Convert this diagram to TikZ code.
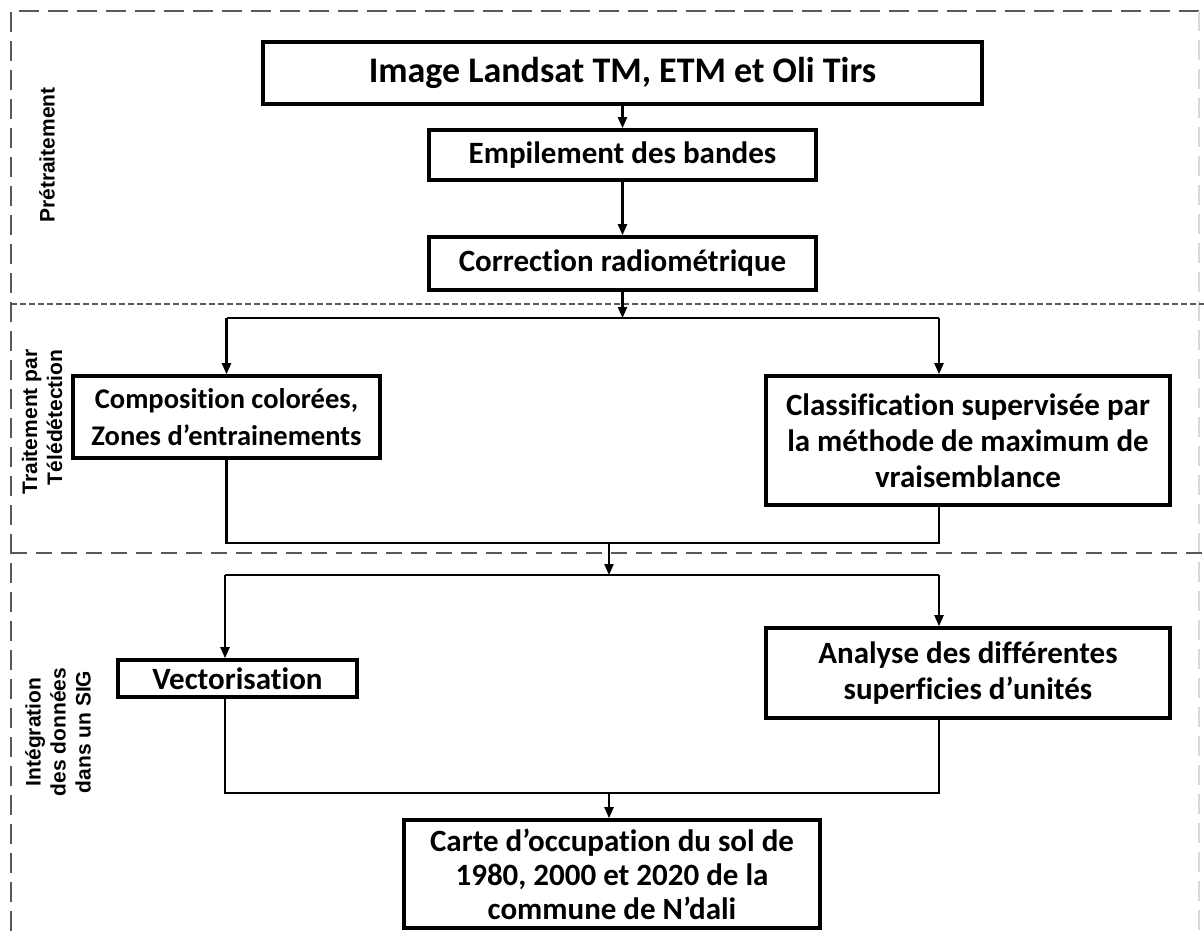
\documentclass[tikz,border=0pt]{standalone}
\usepackage{fontspec}
\setmainfont{Carlito}[Ligatures=NoCommon]
\newfontfamily\labelfont{Liberation Sans}
\usetikzlibrary{arrows.meta}
\begin{document}
\begin{tikzpicture}[x=1pt,y=-1pt,
 box/.style={draw=black, line width=3.6pt, fill=white, align=center, inner sep=0pt, font=\fontsize{31}{36}\selectfont\bfseries},
 conn/.style={line width=2.2pt},
 arr/.style={conn,-{Triangle[length=11pt,width=9pt]}},
 sep/.style={black!65, line width=2pt},
 lab/.style={rotate=90, inner sep=0pt, font=\labelfont\fontsize{21}{25}\selectfont\bfseries}]
\useasboundingbox (0,0) rectangle (1204,931);
\fill[white] (0,0) rectangle (1204,931);
% section frames
\draw[sep, dash pattern=on 20pt off 9pt] (11,931) -- (11,11) -- (1204,11);
\draw[black!15, line width=1.5pt, dash pattern=on 20pt off 9pt] (1199,11) -- (1199,931);
\draw[sep, dash pattern=on 6pt off 3pt] (11,304) -- (1204,304);
\draw[sep, dash pattern=on 16pt off 9pt] (11,553) -- (1204,553);
% labels
\node[lab] (p1) at (47,155) {Prétraitement};
\node[lab, align=right] (p2) at (42,422) {Traitement par\\Télédétection};
\node[lab, align=center] (p3) at (58,732) {Intégration\\des données\\dans un SIG};
% boxes
\node[box, minimum width=719pt, minimum height=62pt, font=\fontsize{36}{40}\selectfont\bfseries] (b1) at (622.5,73) {Image Landsat TM, ETM et Oli Tirs};
\node[box, minimum width=387pt, minimum height=50pt] (b2) at (622.5,155) {Empilement des bandes};
\node[box, minimum width=387pt, minimum height=53pt] (b3) at (622.5,263.5) {Correction radiométrique};
\node[box, minimum width=307pt, minimum height=82pt, font=\fontsize{28.5}{37}\selectfont\bfseries] (b4) at (226.5,417) {Composition colorées,\\Zones d’entrainements};
\node[box, minimum width=404pt, minimum height=129pt] (b5) at (968,440.5) {Classification supervisée par\\la méthode de maximum de\\vraisemblance};
\node[box, minimum width=239pt, minimum height=37pt] (b6) at (237.5,678.5) {Vectorisation};
\node[box, minimum width=404pt, minimum height=90pt] (b7) at (968,673) {Analyse des différentes\\superficies d’unités};
\node[box, minimum width=416pt, minimum height=108pt, font=\fontsize{31}{34}\selectfont\bfseries] (b8) at (612,874) {Carte d’occupation du sol de\\1980, 2000 et 2020 de la\\commune de N’dali};
% connectors
\draw[arr] (b1.south) -- (b2.north);
\draw[arr] (b2.south) -- (b3.north);
\coordinate (j1) at (622.5,318);
\coordinate (l1) at (226.5,318);
\coordinate (r1) at (939,318);
\draw[arr] (b3.south) -- (j1);
\draw[conn] (l1) -- (r1);
\draw[arr] (l1) -- (l1 |- b4.north);
\draw[arr] (r1) -- (r1 |- b5.north);
\coordinate (l2) at (226.5,543);
\coordinate (r2) at (939,543);
\draw[conn] (b4.south) -- (l2) -- (r2) -- (r2 |- b5.south);
\coordinate (m2) at (609,543);
\coordinate (j2) at (609,575);
\draw[arr] (m2) -- (j2);
\coordinate (l3) at (225,575);
\coordinate (r3) at (939,575);
\draw[conn] (l3) -- (r3);
\draw[arr] (l3) -- (l3 |- b6.north);
\draw[arr] (r3) -- (r3 |- b7.north);
\coordinate (l4) at (225,793);
\coordinate (r4) at (939,793);
\coordinate (m4) at (609,793);
\draw[conn] (l3 |- b6.south) -- (l4) -- (r4) -- (r3 |- b7.south);
\draw[arr] (m4) -- (m4 |- b8.north);
\end{tikzpicture}
\end{document}
